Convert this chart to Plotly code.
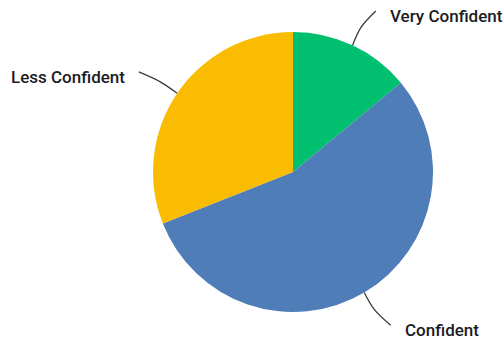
import math
import plotly.graph_objects as go

# Survey confidence breakdown
labels = ["Very Confident", "Confident", "Less Confident"]
values = [14, 55, 31]
colors = ["#00BF6F", "#4F7DB8", "#F9BC00"]

W, H = 503, 343
cx, cy, r = 293, 172, 140  # pie centre and radius in pixels

fig = go.Figure()
fig.add_trace(go.Pie(
    labels=labels, values=values, sort=False, direction="clockwise", rotation=0,
    marker=dict(colors=colors, line=dict(width=0)),
    textinfo="none", hoverinfo="label+value", showlegend=False,
    domain=dict(x=[(cx - r) / W, (cx + r) / W], y=[(H - cy - r) / H, (H - cy + r) / H]),
))

# Curved leader lines and outside labels, placed at each slice's mid-angle
total = sum(values)
cum = 0
annotations = []
for lab, v in zip(labels, values):
    mid = (cum + v / 2) / total * 2 * math.pi
    cum += v
    dx, dy = math.sin(mid), -math.cos(mid)
    side = 1 if dx >= 0 else -1
    p0 = (cx + r * dx, cy + r * dy)
    p1 = (cx + (r + 20) * dx, cy + (r + 20) * dy)
    p2 = (cx + (r + 38) * dx + 7 * side, cy + (r + 38) * dy)
    fig.add_trace(go.Scatter(
        x=[p0[0], p1[0], p2[0]], y=[p0[1], p1[1], p2[1]],
        mode="lines", line=dict(color="#3a3a3a", width=1.3, shape="spline"),
        hoverinfo="skip", showlegend=False,
    ))
    annotations.append(dict(
        x=p2[0] + 12 * side, y=p2[1] + 5, xref="x", yref="y", text=lab,
        showarrow=False, xanchor="left" if side > 0 else "right", yanchor="middle",
        font=dict(family="Roboto", size=17, color="#1b1b24", weight=500),
    ))

fig.update_layout(
    width=W, height=H, margin=dict(l=0, r=0, t=0, b=0),
    paper_bgcolor="white", plot_bgcolor="rgba(0,0,0,0)",
    xaxis=dict(range=[0, W], visible=False, domain=[0, 1], fixedrange=True),
    yaxis=dict(range=[H, 0], visible=False, domain=[0, 1], fixedrange=True),
    annotations=annotations,
)

fig.write_html("out.html")
